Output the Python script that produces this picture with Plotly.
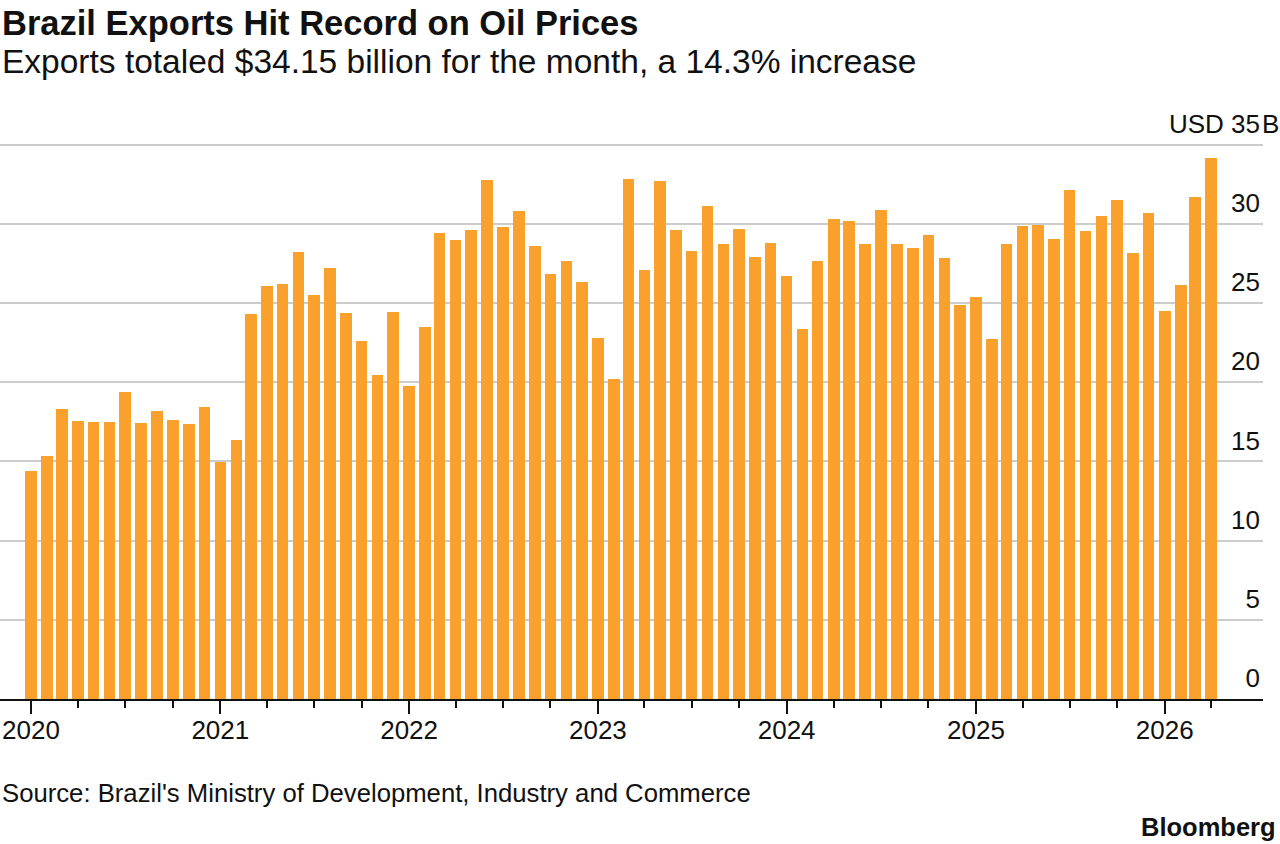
import pandas as pd
import plotly.graph_objects as go

# Monthly exports, USD billions, Jan 2020 .. Apr 2026
months = pd.date_range("2020-01-01", periods=76, freq="MS")
exports_2020 = [14.42, 15.37, 18.31, 17.58, 17.51, 17.47, 19.41, 17.41, 18.21, 17.64, 17.34, 18.44]
exports_2021 = [14.97, 16.38, 24.33, 26.06, 26.20, 28.24, 25.50, 27.21, 24.37, 22.61, 20.48, 24.44]
exports_2022 = [19.76, 23.51, 29.40, 28.98, 29.63, 32.75, 29.82, 30.79, 28.58, 26.84, 27.63, 26.33]
exports_2023 = [22.77, 20.23, 32.83, 27.09, 32.68, 29.61, 28.31, 31.11, 28.71, 29.68, 27.89, 28.77]
exports_2024 = [26.69, 23.34, 27.63, 30.33, 30.20, 28.73, 30.85, 28.73, 28.48, 29.30, 27.87, 24.90]
exports_2025 = [25.40, 22.75, 28.73, 29.89, 29.93, 29.04, 32.12, 29.55, 30.48, 31.51, 28.16, 30.71]
exports_2026 = [24.52, 26.16, 31.70, 34.15]
exports = (exports_2020 + exports_2021 + exports_2022 + exports_2023
           + exports_2024 + exports_2025 + exports_2026)

# Quarterly minor ticks (through the last month shown)
quarter_ticks = pd.date_range("2020-01-01", "2026-04-01", freq="3MS")

y_tickvals = [0, 5, 10, 15, 20, 25, 30, 35]
y_ticktext = ["0", "5", "10", "15", "20", "25", "30", "USD 35"]

title = "Brazil Exports Hit Record on Oil Prices"
subtitle = "Exports totaled $34.15 billion for the month, a 14.3% increase"
source = "Source: Brazil's Ministry of Development, Industry and Commerce"

FONT = "Liberation Sans"
ORANGE = "#FAA02C"
INK = "#111111"

fig = go.Figure(
    go.Bar(
        x=months,
        y=exports,
        marker=dict(color=ORANGE, line=dict(width=0)),
        width=22.4 * 86400000,
        hoverinfo="x+y",
    )
)

PLOT_TOP, PLOT_BOTTOM = 138, 699
H = PLOT_BOTTOM - PLOT_TOP
Y_TOP = H / 15.84
PLOT_RIGHT = 1263


def py(pix):
    return (PLOT_BOTTOM - pix) / H


fig.update_layout(
    width=1280,
    height=844,
    margin=dict(l=0, r=1280 - PLOT_RIGHT, t=PLOT_TOP, b=844 - PLOT_BOTTOM, pad=0),
    paper_bgcolor="white",
    plot_bgcolor="white",
    showlegend=False,
    font=dict(family=FONT, color=INK, size=26),
    bargap=0,
    xaxis=dict(
        type="date",
        range=["2019-11-02", "2026-07-10"],
        showline=True,
        linecolor=INK,
        linewidth=1.5,
        showgrid=False,
        zeroline=False,
        ticks="outside",
        ticklen=13,
        tickwidth=1.5,
        tickcolor=INK,
        tick0="2020-01-01",
        dtick="M12",
        tickformat="%Y",
        ticklabelstandoff=-6,
        tickfont=dict(size=26, family=FONT, color=INK),
        minor=dict(ticks="outside", ticklen=7, tickwidth=1.5, tickcolor=INK,
                   tickmode="array", tickvals=list(quarter_ticks), showgrid=False),
        fixedrange=True,
    ),
    yaxis=dict(
        range=[0, Y_TOP],
        side="right",
        ticklabelposition="inside",
        ticklabeloverflow="allow",
        tickvals=y_tickvals,
        ticktext=y_ticktext,
        ticklabelshift=-21,
        showgrid=True,
        gridcolor="#CCCCCC",
        gridwidth=1.5,
        zeroline=False,
        showline=False,
        ticks="",
        tickfont=dict(size=26, family=FONT, color=INK),
        fixedrange=True,
    ),
    annotations=[
        dict(text="<b>" + title + "</b>", x=0, y=py(23), xref="paper", yref="paper",
             xanchor="left", yanchor="middle", showarrow=False,
             font=dict(size=34.5, family=FONT, color=INK)),
        dict(text=subtitle, x=0, y=py(62), xref="paper", yref="paper",
             xanchor="left", yanchor="middle", showarrow=False,
             font=dict(size=33.5, family=FONT, color=INK)),
        dict(text="B", x=1, y=35, xref="paper", yref="y",
             xanchor="left", yanchor="middle", yshift=21, xshift=-3, showarrow=False,
             font=dict(size=26, family=FONT, color=INK)),
        dict(text=source, x=0, y=py(793), xref="paper", yref="paper",
             xanchor="left", yanchor="middle", showarrow=False,
             font=dict(size=25.7, family=FONT, color=INK)),
        dict(text="<b>Bloomberg</b>", x=1278 / PLOT_RIGHT, y=py(827), xref="paper", yref="paper",
             xanchor="right", yanchor="middle", showarrow=False,
             font=dict(size=25.5, family=FONT, color=INK)),
    ],
)

fig.write_html(
    "out.html",
    config={"displayModeBar": False},
    post_script="document.body.style.margin='0';document.body.style.overflow='hidden';",
)
